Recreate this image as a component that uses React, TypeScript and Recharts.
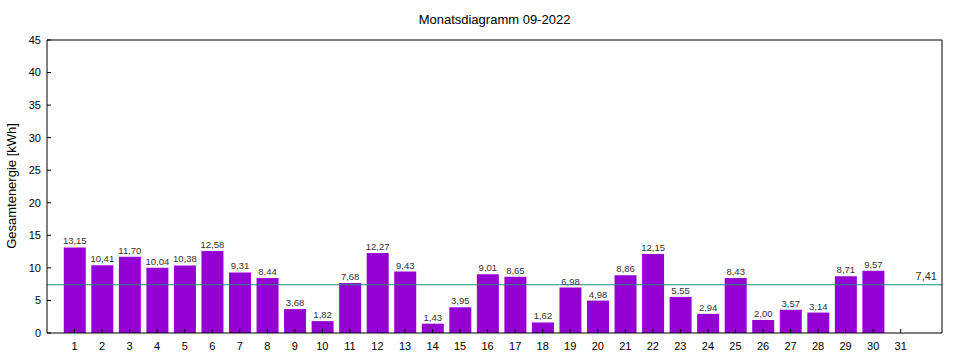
import React from "react"
import { BarChart, Bar, XAxis, YAxis, ReferenceLine, LabelList } from "recharts"

const days = [1, 2, 3, 4, 5, 6, 7, 8, 9, 10, 11, 12, 13, 14, 15, 16, 17, 18, 19, 20, 21, 22, 23, 24, 25, 26, 27, 28, 29, 30, 31]
const energy = [
  13.15, 10.41, 11.7, 10.04, 10.38, 12.58, 9.31, 8.44, 3.68, 1.82, 7.68, 12.27, 9.43, 1.43, 3.95,
  9.01, 8.65, 1.62, 6.98, 4.98, 8.86, 12.15, 5.55, 2.94, 8.43, 2.0, 3.57, 3.14, 8.71, 9.57, null,
]
const average = 7.41
const yTicks = [0, 5, 10, 15, 20, 25, 30, 35, 40, 45]

const data = days.map((d, i) => ({ day: d, kwh: energy[i] }))

const font = "'Liberation Sans', Arial, sans-serif"
const fmt = (v: any) => (v == null ? "" : Number(v).toFixed(2).replace(".", ","))

export default function App() {
  return (
    <div style={{ position: "absolute", left: 0, top: 0, width: 960, height: 360, background: "#fff", fontFamily: font }}>
      <div style={{ position: "absolute", left: 0, width: 989, top: 12, textAlign: "center", fontSize: 13, color: "#000" }}>
        Monatsdiagramm 09-2022
      </div>
      <BarChart width={960} height={360} data={data} margin={{ top: 39, right: 17, bottom: 26, left: 0 }}>
        <XAxis
          xAxisId="b"
          dataKey="day"
          type="number"
          domain={[0, 32.5]}
          ticks={days}
          interval={0}
          height={1}
          tickSize={-4}
          tickMargin={13}
          axisLine={{ stroke: "#000" }}
          tickLine={{ stroke: "#000" }}
          tick={{ fontSize: 11, fill: "#000", fontFamily: font }}
        />
        <XAxis
          xAxisId="t"
          orientation="top"
          dataKey="day"
          type="number"
          domain={[0, 32.5]}
          ticks={days}
          interval={0}
          height={1}
          tickSize={-4}
          tick={false}
          axisLine={{ stroke: "#000" }}
          tickLine={{ stroke: "#000" }}
        />
        <YAxis
          yAxisId="l"
          domain={[0, 45]}
          ticks={yTicks}
          interval={0}
          width={47}
          tickSize={-4}
          tickMargin={10}
          axisLine={{ stroke: "#000" }}
          tickLine={{ stroke: "#000" }}
          tick={{ fontSize: 11, fill: "#000", fontFamily: font }}
          label={{
            content: () => (
              <text x={16} y={186} transform="rotate(-90 16 186)" textAnchor="middle" fontSize={13} fill="#000" fontFamily={font}>
                Gesamtenergie [kWh]
              </text>
            ),
          }}
        />
        <YAxis
          yAxisId="r"
          orientation="right"
          domain={[0, 45]}
          ticks={yTicks}
          interval={0}
          width={1}
          tickSize={-4}
          tick={false}
          axisLine={{ stroke: "#000" }}
          tickLine={{ stroke: "#000" }}
        />
        <Bar dataKey="kwh" xAxisId="b" yAxisId="l" fill="#9400D3" barSize={22} isAnimationActive={false}>
          <LabelList dataKey="kwh" position="top" offset={3} formatter={fmt} fontSize={9.5} fill="#333" fontFamily={font} />
        </Bar>
        <ReferenceLine
          y={average}
          xAxisId="b"
          yAxisId="l"
          stroke="#1f8f7f"
          strokeWidth={1}
          label={{ value: fmt(average), position: "insideBottomRight", offset: 5, fontSize: 11, fill: "#333", fontFamily: font }}
        />
      </BarChart>
    </div>
  )
}
